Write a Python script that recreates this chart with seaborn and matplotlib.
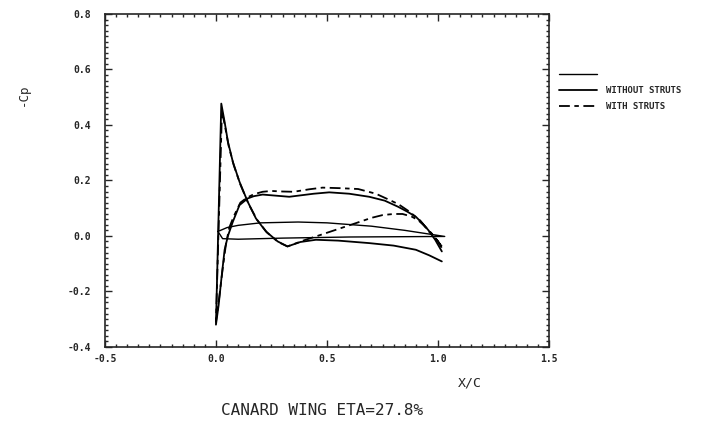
import numpy as np
import pandas as pd
import matplotlib
matplotlib.use("Agg")
import matplotlib.pyplot as plt
from matplotlib.ticker import MultipleLocator, FormatStrFormatter
import seaborn as sns

# pressure distributions, traced from TE back to the LE minimum, then the suction peak and on to TE
xc_without = [1.017, 0.987, 0.957, 0.93, 0.90, 0.86, 0.82, 0.76, 0.69, 0.60, 0.51, 0.44,
              0.39, 0.33, 0.27, 0.21, 0.17, 0.143, 0.106, 0.076, 0.054, 0.039, 0.024, 0.012,
              0.0,
              0.024, 0.039, 0.054, 0.076, 0.106, 0.143, 0.18, 0.225, 0.278, 0.322,
              0.38, 0.45, 0.55, 0.69, 0.80, 0.90, 0.96, 1.017]
cp_without = [-0.056, -0.014, 0.02, 0.045, 0.069, 0.088, 0.105, 0.127, 0.141, 0.152, 0.157,
              0.152, 0.147, 0.141, 0.145, 0.149, 0.143, 0.135, 0.111, 0.051, 0.0, -0.05,
              -0.158, -0.25, -0.32,
              0.477, 0.411, 0.339, 0.267, 0.195, 0.123, 0.063, 0.016, -0.02, -0.038,
              -0.022, -0.014, -0.017, -0.026, -0.035, -0.05, -0.07, -0.092]

xc_with = [1.017, 0.99, 0.96, 0.92, 0.87, 0.82, 0.78, 0.72, 0.64, 0.56, 0.48, 0.42, 0.35,
           0.30, 0.25, 0.21, 0.17, 0.14, 0.11, 0.08, 0.06, 0.045, 0.03, 0.015, 0.0,
           0.027, 0.042, 0.057, 0.08, 0.11, 0.147, 0.185, 0.23, 0.28, 0.322,
           0.40, 0.45, 0.54, 0.63, 0.70, 0.75, 0.80, 0.84, 0.88, 0.91, 0.94, 0.97, 1.0, 1.017]
cp_with = [-0.038, -0.01, 0.015, 0.055, 0.088, 0.115, 0.13, 0.152, 0.169, 0.172, 0.174,
           0.168, 0.159, 0.16, 0.162, 0.159, 0.15, 0.138, 0.12, 0.07, 0.03, -0.03, -0.12,
           -0.22, -0.31,
           0.45, 0.39, 0.325, 0.255, 0.185, 0.115, 0.058, 0.012, -0.022, -0.038,
           -0.015, -0.002, 0.022, 0.046, 0.065, 0.075, 0.079, 0.079, 0.07, 0.057, 0.035,
           0.01, -0.02, -0.044]

# section outline (unlabelled legend entry)
xc_section = [0.009, 0.05, 0.1, 0.2, 0.37, 0.5, 0.7, 0.85, 1.03, 0.6, 0.3, 0.1, 0.03, 0.009]
zc_section = [0.016, 0.03, 0.038, 0.047, 0.05, 0.047, 0.035, 0.02, -0.002, -0.004,
              -0.008, -0.012, -0.01, 0.016]

sns.set_style("ticks")
plt.rcParams["font.family"] = ["DejaVu Sans Mono", "DejaVu Sans"]
plt.rcParams["font.weight"] = "bold"

fig = plt.figure(figsize=(7.04, 4.23), dpi=100)
ax = fig.add_axes([0.149, 0.180, 0.631, 0.787])

df_sec = pd.DataFrame({"x": xc_section, "y": zc_section})
df_wo = pd.DataFrame({"x": xc_without, "y": cp_without})
df_w = pd.DataFrame({"x": xc_with, "y": cp_with})

sns.lineplot(data=df_sec, x="x", y="y", sort=False, estimator=None, ax=ax,
             color="black", linewidth=1.0)
sns.lineplot(data=df_wo, x="x", y="y", sort=False, estimator=None, ax=ax,
             color="black", linewidth=1.3)
sns.lineplot(data=df_w, x="x", y="y", sort=False, estimator=None, ax=ax,
             color="black", linewidth=1.3, linestyle=(0, (6, 2.5, 2.5, 2.5)))

ax.set_xlim(-0.5, 1.5)
ax.set_ylim(-0.4, 0.8)
ax.xaxis.set_major_locator(MultipleLocator(0.5))
ax.xaxis.set_minor_locator(MultipleLocator(0.05))
ax.yaxis.set_major_locator(MultipleLocator(0.2))
ax.yaxis.set_minor_locator(MultipleLocator(0.02))
ax.xaxis.set_major_formatter(FormatStrFormatter("%.1f"))
ax.yaxis.set_major_formatter(FormatStrFormatter("%.1f"))
ax.tick_params(which="both", direction="in", top=True, right=True, width=1.0)
ax.tick_params(which="major", length=5)
ax.tick_params(which="minor", length=2.5)
ax.tick_params(axis="y", which="major", pad=10, labelsize=7)
ax.tick_params(axis="x", which="major", pad=5, labelsize=7)
for s in ax.spines.values():
    s.set_visible(True)
    s.set_linewidth(1.2)
ax.set_xlabel("")
ax.set_ylabel("")

fig.text(0.668, 0.095, "X/C", fontsize=9.5, fontweight="normal", ha="center", va="center")
fig.text(0.033, 0.775, "-Cp", fontsize=9, fontweight="normal", rotation=90,
         ha="center", va="center")
fig.text(0.458, 0.030, "CANARD WING ETA=27.8%", fontsize=11.5, fontweight="normal",
         ha="center", va="center")

lines = ax.get_lines()
ax.legend(handles=[lines[0], lines[1], lines[2]],
          labels=["", "WITHOUT STRUTS", "WITH STRUTS"],
          loc="upper left", bbox_to_anchor=(1.005, 0.855), frameon=False,
          fontsize=6.5, handlelength=4.2, handletextpad=0.9, labelspacing=0.75)

fig.savefig("out.png", dpi=100)
